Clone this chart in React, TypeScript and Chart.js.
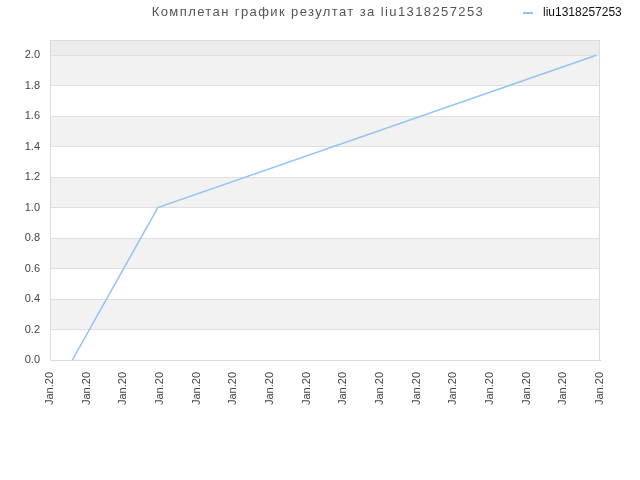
import React, { useEffect, useRef } from 'react';
import { Chart, registerables, Plugin } from 'chart.js';

Chart.register(...registerables);

// Datos
const chartTitle = 'Комплетан график резултат за liu1318257253';
const seriesName = 'liu1318257253';
const xTickLabel = 'Jan.20';
const xPositions = [0.61, 2.94, 14.9];
const yValues = [0, 1, 2];
const yTicks = [0, 0.2, 0.4, 0.6, 0.8, 1.0, 1.2, 1.4, 1.6, 1.8, 2.0];

const lineColor = '#92c3f5';

// Bandas alternas y borde del área del gráfico
const bandsPlugin: Plugin<'line'> = {
  id: 'bands',
  beforeDraw(chart) {
    const { ctx, chartArea: a, scales } = chart;
    const y = scales.y;
    ctx.save();
    // banda superior sobre 2.0
    ctx.fillStyle = '#ececec';
    ctx.fillRect(a.left, a.top, a.right - a.left, y.getPixelForValue(2.0) - a.top);
    for (let i = 0; i < yTicks.length - 1; i++) {
      if (i % 2 === 1) {
        const top = y.getPixelForValue(yTicks[i + 1]);
        const bottom = y.getPixelForValue(yTicks[i]);
        ctx.fillStyle = '#f2f2f2';
        ctx.fillRect(a.left, top, a.right - a.left, bottom - top);
      }
    }
    ctx.restore();
  },
  afterDraw(chart) {
    const { ctx, chartArea: a } = chart;
    ctx.save();
    ctx.strokeStyle = '#dcdcdc';
    ctx.lineWidth = 1;
    ctx.strokeRect(a.left + 0.5, a.top + 0.5, a.right - a.left - 1, a.bottom - a.top);
    // título
    ctx.fillStyle = '#555';
    ctx.font = '13px "Liberation Sans", Arial, sans-serif';
    (ctx as any).letterSpacing = '1.4px';
    ctx.textAlign = 'center';
    ctx.textBaseline = 'middle';
    ctx.fillText(chartTitle, 318, 12);
    (ctx as any).letterSpacing = '0px';
    // leyenda
    ctx.strokeStyle = lineColor;
    ctx.lineWidth = 2;
    ctx.beginPath();
    ctx.moveTo(523, 13);
    ctx.lineTo(533, 13);
    ctx.stroke();
    ctx.fillStyle = '#111';
    ctx.font = '12px "Liberation Sans", Arial, sans-serif';
    ctx.textAlign = 'left';
    ctx.fillText(seriesName, 543, 13);
    ctx.restore();
  }
};

const App: React.FC = () => {
  const canvasRef = useRef<HTMLCanvasElement>(null);

  useEffect(() => {
    document.body.style.margin = '0';
    if (!canvasRef.current) return;
    const chart = new Chart(canvasRef.current, {
      type: 'line',
      data: {
        datasets: [
          {
            label: seriesName,
            data: xPositions.map((x, i) => ({ x, y: yValues[i] })),
            borderColor: lineColor,
            backgroundColor: lineColor,
            borderWidth: 1.5,
            pointRadius: 0,
            tension: 0,
            fill: false
          }
        ]
      },
      options: {
        animation: false,
        responsive: false,
        layout: { padding: { top: 40, right: 40, left: 0, bottom: 0 } },
        plugins: {
          legend: { display: false },
          title: { display: false },
          tooltip: { enabled: false }
        },
        scales: {
          x: {
            type: 'linear',
            min: 0,
            max: 15,
            ticks: {
              stepSize: 1,
              autoSkip: false,
              minRotation: 90,
              maxRotation: 90,
              padding: 12,
              color: '#444',
              font: { family: '"Liberation Sans", Arial, sans-serif', size: 11 },
              callback: () => xTickLabel
            },
            grid: { display: false, drawTicks: false },
            border: { color: '#d0d0d0' },
            afterFit: (scale: any) => { scale.height = 120; }
          },
          y: {
            min: 0,
            max: 2.1,
            afterBuildTicks: (scale: any) => {
              scale.ticks = yTicks.map((v) => ({ value: v }));
            },
            ticks: {
              color: '#444',
              padding: 10,
              font: { family: '"Liberation Sans", Arial, sans-serif', size: 11 },
              callback: (v: any) => Number(v).toFixed(1)
            },
            grid: { color: '#e0e0e0', drawTicks: false },
            border: { display: false },
            afterFit: (scale: any) => { scale.width = 50; }
          }
        }
      },
      plugins: [bandsPlugin]
    });
    return () => chart.destroy();
  }, []);

  return (
    <div style={{ width: 640, height: 480, background: '#fff' }}>
      <canvas ref={canvasRef} width={640} height={480}></canvas>
    </div>
  );
};

export default App;
